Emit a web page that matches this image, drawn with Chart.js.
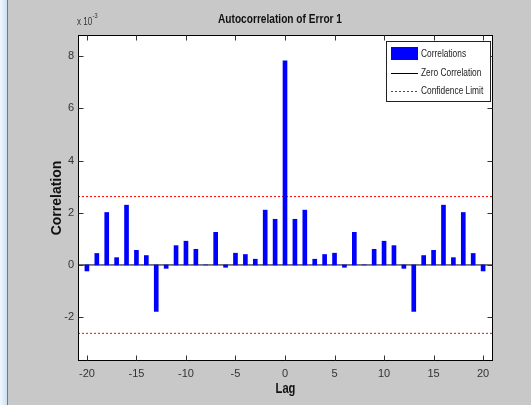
<!DOCTYPE html>
<html>
<head>
<meta charset="utf-8">
<script src="https://cdn.jsdelivr.net/npm/chart.js@4"></script>
<style>
  html, body { margin: 0; padding: 0; background: #c8c8c8; }
  #wrap { position: relative; width: 531px; height: 405px; overflow: hidden; }
  #strip { position: absolute; left: 0; top: 0; width: 7px; height: 405px;
           background: linear-gradient(to right, #f2f7fd, #cddff3); border-right: 1px solid #6f7a88; }
  canvas { position: absolute; left: 0; top: 0; }
</style>
</head>
<body>
<div id="wrap">
  <div id="strip"></div>
  <canvas id="acfChart" width="531" height="405"></canvas>
</div>
<script>
// autocorrelation values are in units of 1e-3
const lags = [-20, -19, -18, -17, -16, -15, -14, -13, -12, -11, -10, -9, -8, -7, -6, -5, -4, -3, -2, -1,
              0, 1, 2, 3, 4, 5, 6, 7, 8, 9, 10, 11, 12, 13, 14, 15, 16, 17, 18, 19, 20];
const correlations = [-0.23, 0.44, 2.01, 0.28, 2.29, 0.56, 0.36, -1.78, -0.13, 0.74, 0.91, 0.60, 0.0, 1.25, -0.09, 0.45, 0.40, 0.22, 2.10, 1.75,
                      7.82, 1.75, 2.10, 0.22, 0.40, 0.45, -0.09, 1.25, 0.0, 0.60, 0.91, 0.74, -0.13, -1.78, 0.36, 0.56, 2.29, 0.28, 2.01, 0.44, -0.23];
const zeroLevel = 0;
const confidenceLimit = 2.62;
const xTicks = [-20, -15, -10, -5, 0, 5, 10, 15, 20];
const yTicks = [-2, 0, 2, 4, 6, 8];
const xRange = [-20.9, 21];
const yRange = [-3.68, 8.81];

const sans = "'Liberation Sans', Arial, sans-serif";

const flatLine = v => [{ x: xRange[0], y: v }, { x: xRange[1], y: v }];

// squeezed text, the screenshot has a narrow Helvetica
function narrowText(ctx, text, x, y, squeeze) {
    ctx.save();
    ctx.translate(x, y);
    ctx.scale(squeeze, 1);
    ctx.fillText(text, 0, 0);
    ctx.restore();
}

// MATLAB look: white box, inside ticks on all sides, legend in the corner, labels
const matlabFrame = {
    id: 'matlabFrame',
    beforeDatasetsDraw(chart) {
        const { ctx, chartArea: a } = chart;
        ctx.save();
        ctx.fillStyle = '#fff';
        ctx.fillRect(a.left, a.top, a.right - a.left, a.bottom - a.top);
        ctx.restore();
    },
    afterDatasetsDraw(chart) {
        const { ctx, chartArea: a, scales } = chart;
        const L = Math.round(a.left) + 0.5, R = Math.round(a.right) - 0.5;
        const T = Math.round(a.top) + 0.5, B = Math.round(a.bottom) - 0.5;
        ctx.save();
        ctx.strokeStyle = '#000';
        ctx.lineWidth = 1;
        ctx.strokeRect(L, T, R - L, B - T);

        ctx.strokeStyle = '#333';
        ctx.beginPath();
        xTicks.forEach(v => {
            const x = Math.round(scales.x.getPixelForValue(v)) + 0.5;
            ctx.moveTo(x, T); ctx.lineTo(x, T + 5);
            ctx.moveTo(x, B); ctx.lineTo(x, B - 5);
        });
        yTicks.forEach(v => {
            const y = Math.round(scales.y.getPixelForValue(v)) + 0.5;
            ctx.moveTo(L, y); ctx.lineTo(L + 5, y);
            ctx.moveTo(R, y); ctx.lineTo(R - 5, y);
        });
        ctx.stroke();

        // legend
        const lx = 386.5, ly = 41.5, lw = 104, lh = 60;
        ctx.fillStyle = '#fff';
        ctx.fillRect(lx, ly, lw, lh);
        ctx.strokeStyle = '#222';
        ctx.strokeRect(lx, ly, lw, lh);
        ctx.font = '11px ' + sans;
        ctx.textBaseline = 'middle';
        ctx.textAlign = 'left';
        const rows = chart.data.datasets.filter(d => !d.hideInLegend);
        rows.forEach((d, i) => {
            const cy = 54 + i * 18.5;
            if (d.type === 'line') {
                ctx.strokeStyle = d.borderColor;
                ctx.setLineDash(d.borderDash || []);
                ctx.beginPath();
                ctx.moveTo(391, Math.round(cy) + 0.5);
                ctx.lineTo(418, Math.round(cy) + 0.5);
                ctx.stroke();
                ctx.setLineDash([]);
            } else {
                ctx.fillStyle = d.backgroundColor;
                ctx.fillRect(391, cy - 7, 27, 13);
            }
            ctx.fillStyle = '#222';
            narrowText(ctx, d.label, 421, cy, 0.76);
        });
        ctx.restore();
    },
    afterDraw(chart) {
        const { ctx, chartArea: a } = chart;
        ctx.save();
        ctx.fillStyle = '#111';
        ctx.textAlign = 'center';
        ctx.textBaseline = 'middle';
        ctx.font = 'bold 13px ' + sans;
        narrowText(ctx, 'Autocorrelation of Error 1', 280, 19, 0.78);

        ctx.font = 'bold 14px ' + sans;
        ctx.textBaseline = 'alphabetic';
        narrowText(ctx, 'Lag', (a.left + a.right) / 2, 393, 0.8);

        ctx.save();
        ctx.translate(57, (a.top + a.bottom) / 2);
        ctx.rotate(-Math.PI / 2);
        ctx.font = 'bold 14px ' + sans;
        ctx.textBaseline = 'middle';
        ctx.fillText('Correlation', 0, 0);
        ctx.restore();

        ctx.fillStyle = '#333';
        ctx.textAlign = 'left';
        ctx.font = '10px ' + sans;
        narrowText(ctx, 'x 10', 77, 25, 0.8);
        const w = ctx.measureText('x 10').width * 0.8;
        ctx.font = '7px ' + sans;
        narrowText(ctx, '-3', 77 + w + 0.5, 18, 0.8);
        ctx.restore();
    }
};

new Chart(document.getElementById('acfChart'), {
    type: 'bar',
    data: {
        datasets: [
            {
                label: 'Correlations',
                data: lags.map((x, i) => ({ x: x, y: correlations[i] })),
                backgroundColor: '#0000ff',
                barThickness: 4
            },
            {
                type: 'line',
                label: 'Zero Correlation',
                data: flatLine(zeroLevel),
                borderColor: '#000',
                borderWidth: 1,
                pointRadius: 0
            },
            {
                type: 'line',
                label: 'Confidence Limit',
                data: flatLine(confidenceLimit),
                borderColor: '#ff0000',
                borderWidth: 1,
                borderDash: [2, 2],
                pointRadius: 0
            },
            {
                type: 'line',
                label: 'Confidence Limit',
                hideInLegend: true,
                data: flatLine(-confidenceLimit),
                borderColor: '#ff0000',
                borderWidth: 1,
                borderDash: [2, 2],
                pointRadius: 0
            }
        ]
    },
    options: {
        responsive: false,
        animation: false,
        layout: { padding: { left: 0, top: 35, right: 38, bottom: 0 } },
        plugins: {
            legend: { display: false },
            tooltip: { enabled: false }
        },
        scales: {
            x: {
                type: 'linear',
                offset: false,
                min: xRange[0],
                max: xRange[1],
                afterFit: s => { s.height = 44; },
                afterBuildTicks: s => { s.ticks = xTicks.map(v => ({ value: v })); },
                grid: { display: false, drawTicks: false },
                border: { display: false },
                ticks: { color: '#333', font: { family: sans, size: 11 }, padding: 6, maxRotation: 0 }
            },
            y: {
                min: yRange[0],
                max: yRange[1],
                afterFit: s => { s.width = 78; },
                afterBuildTicks: s => { s.ticks = yTicks.map(v => ({ value: v })); },
                grid: { display: false, drawTicks: false },
                border: { display: false },
                ticks: { color: '#333', font: { family: sans, size: 11 }, padding: 4 }
            }
        }
    },
    plugins: [matlabFrame]
});
</script>
</body>
</html>
